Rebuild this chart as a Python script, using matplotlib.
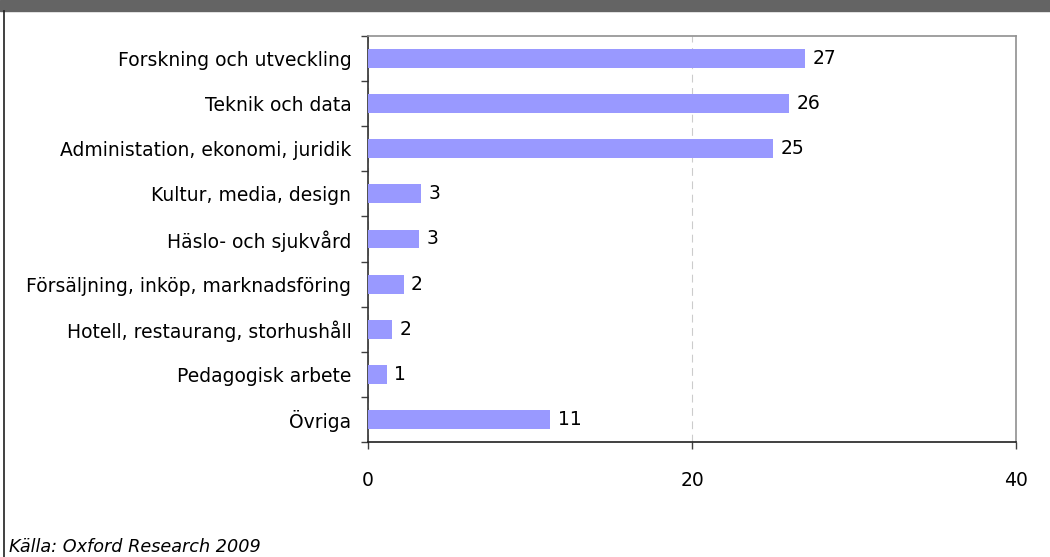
import matplotlib
matplotlib.use("Agg")
import matplotlib.pyplot as plt
import matplotlib.patches as patches
from matplotlib.lines import Line2D

categories = ["Forskning och utveckling", "Teknik och data",
              "Administation, ekonomi, juridik", "Kultur, media, design",
              "Häslo- och sjukvård", "Försäljning, inköp, marknadsföring",
              "Hotell, restaurang, storhushåll", "Pedagogisk arbete", "Övriga"]
values = [27.0, 26.0, 25.0, 3.3, 3.15, 2.2, 1.5, 1.15, 11.25]
labels = ["27", "26", "25", "3", "3", "2", "2", "1", "11"]
xticks = [0, 20, 40]
source = "Källa: Oxford Research 2009"

plt.rcParams['font.family'] = ['DejaVu Sans']
fs = 13.5

fig = plt.figure(figsize=(10.5, 5.57), dpi=100)
ax = fig.add_axes([368/1050, 1 - 442/557, (1016 - 368)/1050, (442 - 36)/557])

y = list(range(len(categories)))
ax.barh(y, values, height=0.42, color='#9999ff', zorder=3)
for yi, v, lab in zip(y, values, labels):
    ax.text(v + 0.45, yi, lab, va='center', ha='left', fontsize=fs)

ax.set_xlim(0, 40)
ax.set_ylim(len(categories) - 0.5, -0.5)
ax.set_xticks(xticks)
ax.set_xticklabels([str(t) for t in xticks], fontsize=fs)
ax.set_yticks(y)
ax.set_yticklabels(categories, fontsize=fs)
ax.set_yticks([i + 0.5 for i in range(-1, len(categories))], minor=True)
ax.tick_params(axis='y', which='major', length=0, pad=12)
ax.tick_params(axis='y', which='minor', length=5, width=1, color='#404040')
ax.tick_params(axis='x', length=5, width=1, pad=16, color='#404040')

ax.xaxis.grid(True, color='#cccccc', linestyle=(0, (7, 5)), linewidth=0.8, zorder=0)
ax.spines['left'].set_color('#303030')
ax.spines['bottom'].set_color('#202020')
ax.spines['top'].set_color('#909090')
ax.spines['right'].set_color('#909090')
for s in ax.spines.values():
    s.set_linewidth(1.2)

# header band and frame line
fig.patches.append(patches.Rectangle((0, 1 - 11/557), 1, 11/557, transform=fig.transFigure,
                                     color='#646464', zorder=0))
fig.lines.append(Line2D([3.5/1050, 3.5/1050], [0, 1 - 11/557], transform=fig.transFigure,
                        color='#202020', linewidth=1.2))

fig.text(9/1050, 1 - 547/557, source, fontsize=12.7, style='italic', va='center', ha='left')

fig.savefig("out.png", dpi=100)
